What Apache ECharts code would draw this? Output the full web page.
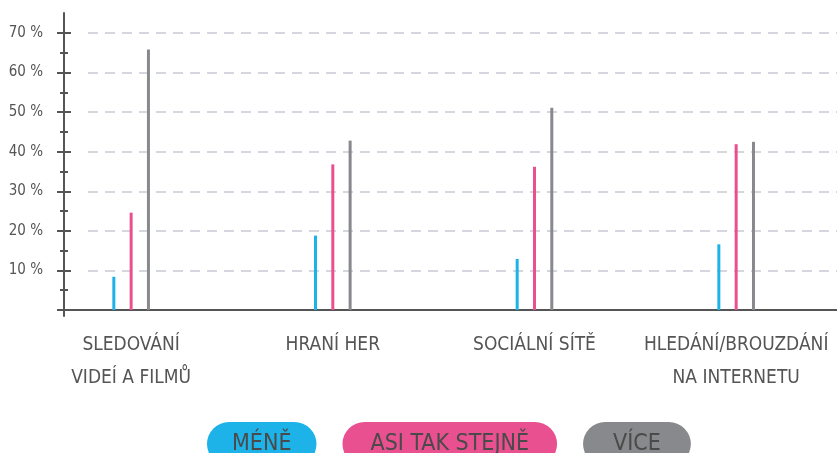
<!DOCTYPE html>
<html><head><meta charset="utf-8">
<script src="https://cdn.jsdelivr.net/npm/echarts@6/dist/echarts.min.js"></script>
<style>html,body{margin:0;padding:0;background:#fff}#c{width:837px;height:453px}</style>
</head><body><div id="c"></div>
<script>
const categories = ['SLEDOVÁNÍ\nVIDEÍ A FILMŮ', 'HRANÍ HER', 'SOCIÁLNÍ SÍTĚ', 'HLEDÁNÍ/BROUZDÁNÍ\nNA INTERNETU'];
const seriesNames = ['MÉNĚ', 'ASI TAK STEJNĚ', 'VÍCE'];
const mene = [8.4, 18.8, 12.9, 16.6];
const stejne = [24.6, 36.8, 36.2, 41.9];
const vice = [65.8, 42.8, 51.1, 42.5];
const yTicks = [0, 10, 20, 30, 40, 50, 60, 70];

const colors = ['#1eb3e8', '#e8508f', '#88898d'];
const FONT = '"Liberation Sans Narrow", "DejaVu Sans Condensed", sans-serif';
const TXT = '#555555';
const yMin = yTicks[0], yMax = yTicks[yTicks.length - 1], yStep = yTicks[1] - yTicks[0];

const chart = echarts.init(document.getElementById('c'));
const hidden = { show: false };
const pads = [[3, 25, 13, 25], [3, 28, 13, 28], [3, 30, 13, 30]];

chart.setOption({
  animation: false,
  textStyle: { fontFamily: FONT },
  grid: [
    { left: 30.3, width: 810, top: 33, height: 277 },   // bars
    { left: 88, right: 0, top: 33, height: 277 },       // dashed grid lines
    { left: 64, width: 10, top: 33, height: 277 },      // ticks + labels
    { left: 64, width: 10, top: 13, height: 303 },      // vertical axis line
    { left: 58, right: 0, top: 33, height: 277 }        // horizontal axis line
  ],
  xAxis: [
    { type: 'category', gridIndex: 0, data: categories,
      axisLine: hidden, axisTick: hidden, splitLine: hidden,
      axisLabel: { color: TXT, fontFamily: FONT, fontSize: 19, lineHeight: 33, margin: 19, interval: 0 } },
    { type: 'value', gridIndex: 1, show: false },
    { type: 'value', gridIndex: 2, show: false },
    { type: 'value', gridIndex: 3, show: false },
    { type: 'value', gridIndex: 4, min: 0, max: 1, position: 'bottom',
      axisLine: { show: true, onZero: false, lineStyle: { color: '#555', width: 2 } },
      axisTick: hidden, axisLabel: hidden, splitLine: hidden }
  ],
  yAxis: [
    { type: 'value', gridIndex: 0, min: yMin, max: yMax, show: false },
    { type: 'value', gridIndex: 1, min: yMin, max: yMax, interval: yStep,
      axisLine: hidden, axisTick: hidden, axisLabel: hidden,
      splitLine: { show: true, lineStyle: { color: '#d6d6df', width: 2, type: [10, 7] } } },
    { type: 'value', gridIndex: 2, position: 'left', min: yMin, max: yMax, interval: yStep,
      axisLine: { show: false }, splitLine: hidden,
      axisTick: { show: true, inside: false, length: 7, lineStyle: { color: '#555', width: 2 } },
      minorTick: { show: true, splitNumber: 2, length: 4, lineStyle: { color: '#555', width: 2 } },
      axisLabel: { color: TXT, fontFamily: FONT, fontSize: 15, margin: 21,
        formatter: v => v === 0 ? '' : v + ' %' } },
    { type: 'value', gridIndex: 2, position: 'left', offset: 0, min: yMin, max: yMax, interval: yStep,
      axisLine: { show: false }, splitLine: hidden, axisLabel: hidden,
      axisTick: { show: true, inside: true, length: 7, lineStyle: { color: '#555', width: 2 } },
      minorTick: { show: true, splitNumber: 2, length: 4, lineStyle: { color: '#555', width: 2 } } },
    { type: 'value', gridIndex: 3, position: 'left', min: 0, max: 1,
      axisLine: { show: true, onZero: false, lineStyle: { color: '#555', width: 2 } },
      axisTick: hidden, axisLabel: hidden, splitLine: hidden },
    { type: 'value', gridIndex: 4, min: yMin, max: yMax, show: false }
  ],
  legend: {
    left: 197, top: 417, itemGap: 21, itemWidth: 0, itemHeight: 44, icon: 'none',
    selectedMode: false,
    data: seriesNames.map((n, i) => ({
      name: n,
      textStyle: { backgroundColor: colors[i], borderRadius: 22, padding: pads[i],
        color: '#4a4a4a', fontSize: 23, lineHeight: 28, fontFamily: FONT }
    }))
  },
  series: [mene, stejne, vice].map((d, i) => ({
    name: seriesNames[i], type: 'bar', xAxisIndex: 0, yAxisIndex: 0,
    data: d, barWidth: 3, barGap: '477%',
    itemStyle: { color: colors[i] }
  }))
});
</script></body></html>
